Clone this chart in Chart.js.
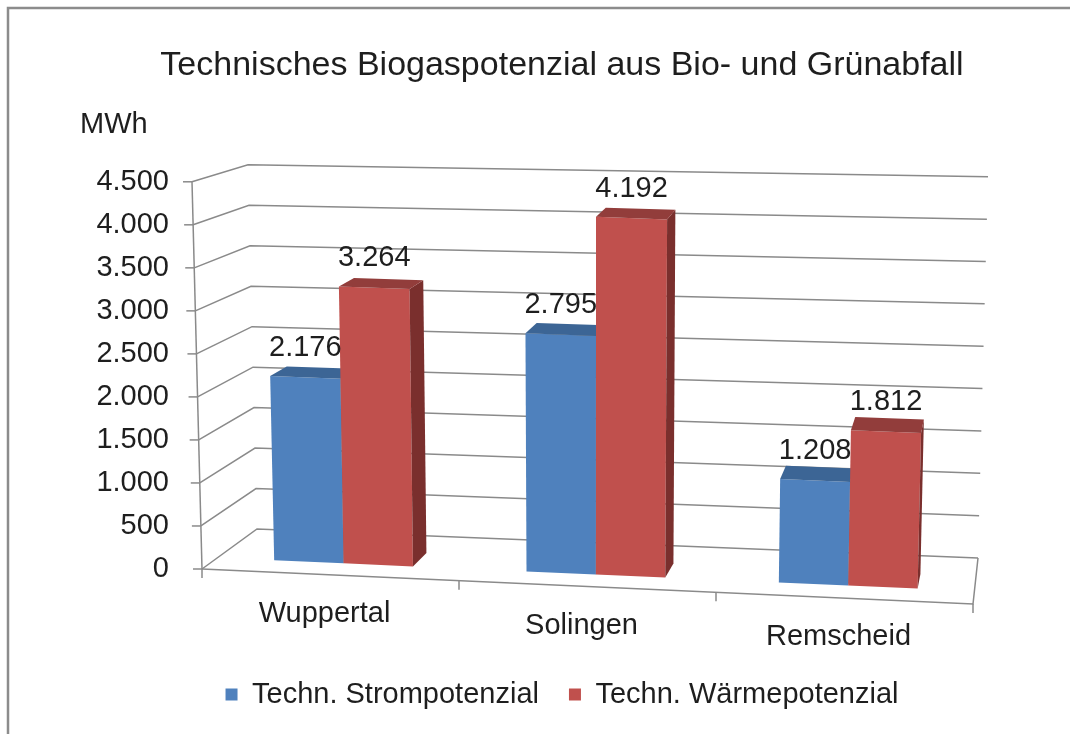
<!DOCTYPE html>
<html lang="de">
<head>
<meta charset="utf-8">
<title>Technisches Biogaspotenzial</title>
<script src="https://cdn.jsdelivr.net/npm/chart.js@4.4.1/dist/chart.umd.min.js"></script>
<style>
  html, body { margin: 0; padding: 0; background: #fff; }
  #wrap { width: 1070px; height: 734px; }
</style>
</head>
<body>
<div id="wrap"><canvas id="biogasChart" width="1070" height="734"></canvas></div>
<script>
// ===================== DATA =====================
const categories = ['Wuppertal', 'Solingen', 'Remscheid'];
const seriesNames = ['Techn. Strompotenzial', 'Techn. Wärmepotenzial'];
const stromValues = [2176, 2795, 1208];
const waermeValues = [3264, 4192, 1812];
const yMin = 0;
const yMax = 4500;
const yStep = 500;
const unitLabel = 'MWh';
const chartTitle = 'Technisches Biogaspotenzial aus Bio- und Grünabfall';

// ===================== STYLE =====================
const FONT = "'Liberation Sans', Arial, sans-serif";
const TEXT = '#1e1e1e';
const GRID = '#8a8a8a';
const faceColors = [
    { front: '#4f81bd', top: '#3c6595', side: '#385d8a' },
    { front: '#c0504d', top: '#923d3b', side: '#7a2f2d' }
];

// perspective: pixel offsets of the box corners relative to the flat chart area
// b0/b1 = bottom left/right, t0/t1 = top left/right
const frontOff = { b0: [0, 0], b1: [0, 35], t0: [-10, 0], t1: [10, 33] };
const backOff = { b0: [55, -40], b1: [5, -11], t0: [46, -17], t1: [15, -5] };
const barDepth = [0.28, 0.6];

function fmt(v) {
    return String(v).replace(/\B(?=(\d{3})+(?!\d))/g, '.');
}

function lerp(a, b, t) { return a + (b - a) * t; }

function offAt(o, u, v) {
    const bx = lerp(o.b0[0], o.b1[0], u), by = lerp(o.b0[1], o.b1[1], u);
    const tx = lerp(o.t0[0], o.t1[0], u), ty = lerp(o.t0[1], o.t1[1], u);
    return [lerp(bx, tx, v), lerp(by, ty, v)];
}

// flat chart pixel (x, y) at depth w (0 = front, 1 = back wall) -> screen
function project(area, x, y, w) {
    const u = (x - area.left) / (area.right - area.left);
    const v = (area.bottom - y) / (area.bottom - area.top);
    const f = offAt(frontOff, u, v);
    const b = offAt(backOff, u, v);
    return [x + lerp(f[0], b[0], w), y + lerp(f[1], b[1], w)];
}

function poly(ctx, pts, color) {
    ctx.beginPath();
    ctx.moveTo(pts[0][0], pts[0][1]);
    for (let i = 1; i < pts.length; i++) ctx.lineTo(pts[i][0], pts[i][1]);
    ctx.closePath();
    ctx.fillStyle = color;
    ctx.fill();
}

function path(ctx, pts) {
    ctx.beginPath();
    ctx.moveTo(pts[0][0], pts[0][1]);
    for (let i = 1; i < pts.length; i++) ctx.lineTo(pts[i][0], pts[i][1]);
    ctx.stroke();
}

// ===================== 3D PLUGIN =====================
const box3d = {
    id: 'box3d',
    beforeDraw(chart) {
        const ctx = chart.ctx;
        ctx.save();
        ctx.fillStyle = '#fff';
        ctx.fillRect(0, 0, chart.width, chart.height);
        ctx.strokeStyle = '#8c8c8c';
        ctx.lineWidth = 2.5;
        path(ctx, [[8, chart.height], [8, 8], [chart.width, 8]]);
        ctx.restore();
    },
    beforeDatasetsDraw(chart) {
        const ctx = chart.ctx, area = chart.chartArea;
        const yScale = chart.scales.y, xScale = chart.scales.x;
        ctx.save();
        ctx.strokeStyle = GRID;
        ctx.lineWidth = 1.5;

        // walls: gridlines along the left side and the back
        for (let v = yMin; v <= yMax; v += yStep) {
            const py = yScale.getPixelForValue(v);
            const a = project(area, area.left, py, 0);
            const b = project(area, area.left, py, 1);
            const c = project(area, area.right, py, 1);
            path(ctx, [a, b, c]);
            path(ctx, [a, [a[0] - 9, a[1]]]);
        }
        // front value axis
        path(ctx, [project(area, area.left, area.bottom, 0), project(area, area.left, area.top, 0)]);
        // floor front and right edge
        path(ctx, [project(area, area.left, area.bottom, 0), project(area, area.right, area.bottom, 0),
                   project(area, area.right, area.bottom, 1)]);
        // category ticks
        for (let k = 0; k <= categories.length; k++) {
            const p = project(area, xScale.getPixelForValue(k - 0.5), area.bottom, 0);
            path(ctx, [p, [p[0], p[1] + 9]]);
        }

        // category labels
        ctx.fillStyle = TEXT;
        ctx.font = '29px ' + FONT;
        ctx.textAlign = 'center';
        ctx.textBaseline = 'middle';
        categories.forEach((c, j) => {
            const p = project(area, xScale.getPixelForValue(j), area.bottom, 0);
            ctx.fillText(c, p[0] - 6, p[1] + 39);
        });

        // unit label
        ctx.textAlign = 'left';
        ctx.fillText(unitLabel, area.left - 122, area.top - 57);
        ctx.restore();
    },
    beforeDatasetDraw() {
        return false;
    },
    afterDatasetsDraw(chart) {
        const ctx = chart.ctx, area = chart.chartArea;
        const metas = chart.data.datasets.map((d, i) => chart.getDatasetMeta(i));
        const labels = [];
        ctx.save();
        categories.forEach((c, j) => {
            metas.forEach((meta, i) => {
                const bar = meta.data[j];
                const { x, y, base, width } = bar.getProps(['x', 'y', 'base', 'width'], true);
                const x1 = x - width / 2, x2 = x + width / 2;
                const [w1, w2] = barDepth;
                const fbl = project(area, x1, base, w1), fbr = project(area, x2, base, w1);
                const ftl = project(area, x1, y, w1), ftr = project(area, x2, y, w1);
                const btl = project(area, x1, y, w2), btr = project(area, x2, y, w2);
                const bbr = project(area, x2, base, w2);
                const col = faceColors[i];
                poly(ctx, [fbl, fbr, ftr, ftl], col.front);
                poly(ctx, [fbr, bbr, btr, ftr], col.side);
                poly(ctx, [ftl, ftr, btr, btl], col.top);
                labels.push({
                    text: fmt(chart.data.datasets[i].data[j]),
                    x: (ftl[0] + ftr[0]) / 2,
                    y: Math.min(ftl[1], ftr[1]) - 20
                });
            });
        });
        ctx.fillStyle = TEXT;
        ctx.font = '29px ' + FONT;
        ctx.textAlign = 'center';
        ctx.textBaseline = 'alphabetic';
        labels.forEach(l => ctx.fillText(l.text, l.x, l.y));
        ctx.restore();
    }
};

// ===================== CHART =====================
new Chart(document.getElementById('biogasChart'), {
    type: 'bar',
    data: {
        labels: categories,
        datasets: [
            { label: seriesNames[0], data: stromValues, backgroundColor: faceColors[0].front, borderWidth: 0 },
            { label: seriesNames[1], data: waermeValues, backgroundColor: faceColors[1].front, borderWidth: 0 }
        ]
    },
    options: {
        responsive: false,
        animation: false,
        layout: { padding: { left: 82, right: 28, top: 0, bottom: 15 } },
        datasets: { bar: { categoryPercentage: 0.55, barPercentage: 1 } },
        plugins: {
            title: {
                display: true,
                text: chartTitle,
                color: TEXT,
                font: { family: FONT, size: 34, weight: 'normal', lineHeight: 1.2 },
                padding: { top: 45, bottom: 96 }
            },
            legend: {
                position: 'bottom',
                labels: {
                    color: TEXT,
                    font: { family: FONT, size: 29 },
                    boxWidth: 12,
                    boxHeight: 12,
                    padding: 30
                }
            },
            tooltip: { enabled: false }
        },
        scales: {
            x: {
                grid: { display: false, drawTicks: false },
                border: { display: false },
                ticks: { display: false },
                afterFit(scale) { scale.height = 81; }
            },
            y: {
                min: yMin,
                max: yMax,
                ticks: {
                    stepSize: yStep,
                    padding: 33,
                    color: TEXT,
                    font: { family: FONT, size: 29 },
                    callback: v => fmt(v)
                },
                grid: { display: false, drawTicks: false },
                border: { display: false },
                afterFit(scale) { scale.width = 120; }
            },
            // empty right-hand box so the title and legend stay centred like the original
            yRight: {
                type: 'linear',
                position: 'right',
                grid: { display: false, drawTicks: false },
                border: { display: false },
                ticks: { display: false },
                afterFit(scale) { scale.width = 69; }
            }
        }
    },
    plugins: [box3d]
});
</script>
</body>
</html>
